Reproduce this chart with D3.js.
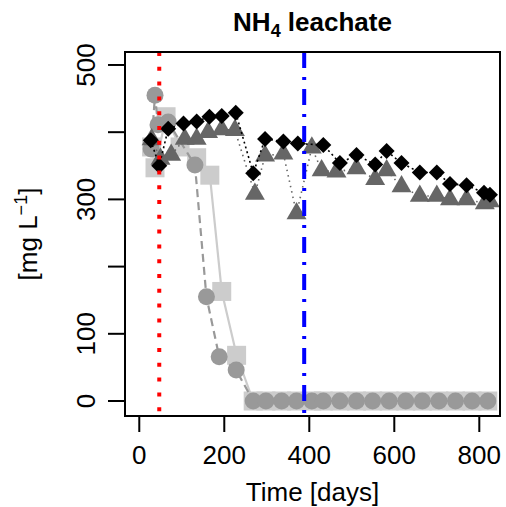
<!DOCTYPE html>
<html>
<head>
<meta charset="utf-8">
<script src="https://cdn.jsdelivr.net/npm/d3@7"></script>
<style>
	html, body { margin: 0; padding: 0; background: #fff; }
	text { font-family: "Liberation Sans", Arial, Helvetica, sans-serif; fill: #000; }
</style>
</head>
<body>
<div id="chart"></div>
<script>

// Event markers (days):
var startDay = 47,
	switchDay = 388;

// Axis ticks:
var xTicks = [0, 200, 400, 600, 800],
	yTicks = [0, 100, 200, 300, 400, 500],
	yTickLabels = ['0', '100', '', '300', '', '500'];

// Black diamonds:
var diamondDays = [27, 47, 68, 104, 135, 165, 194, 227, 268, 296, 339, 373, 433, 472, 511, 555, 582, 617, 660, 700, 731, 770, 811, 825],
	diamondVals = [388, 350, 405, 413, 416, 423, 424, 429, 339, 390, 386, 383, 381, 354, 366, 352, 372, 354, 340, 340, 323, 321, 310, 307];

// Dark grey triangles:
var triangleDays = [29, 50, 75, 107, 135, 162, 194, 225, 272, 296, 339, 370, 406, 429, 464, 511, 555, 582, 617, 660, 700, 731, 770, 813, 825],
	triangleVals = [389, 360, 366, 390, 390, 400, 404, 403, 308, 365, 368, 279, 377, 343, 341, 346, 330, 343, 319, 305, 305, 300, 300, 294, 297];

// Grey circles:
var circleDays = [28, 37, 44, 68, 131, 158, 188, 228, 268, 298, 335, 370, 406, 433, 472, 511, 549, 588, 627, 666, 705, 744, 783, 820],
	circleVals = [375, 455, 411, 415, 351, 155, 66, 46, 0, 0, 0, 0, 0, 0, 0, 0, 0, 0, 0, 0, 0, 0, 0, 0];

// Light grey squares:
var squareDays = [29, 37, 63, 96, 135, 166, 194, 229, 268, 298, 335, 370, 406, 433, 472, 511, 549, 588, 627, 666, 705, 744, 783, 820],
	squareVals = [378, 347, 423, 378, 362, 336, 163, 68, 0, 0, 0, 0, 0, 0, 0, 0, 0, 0, 0, 0, 0, 0, 0, 0];


var width = 506,
	height = 507,
	box = { left: 125, right: 500, top: 52, bottom: 416 };

var x = d3.scaleLinear().domain([-33.6, 848.7]).range([box.left, box.right]),
	y = d3.scaleLinear().domain([-22.3, 519.3]).range([box.bottom, box.top]);

var svg = d3.select('#chart').append('svg')
	.attr('width', width)
	.attr('height', height);

// Clip the data to the plot region:
svg.append('defs').append('clipPath')
	.attr('id', 'plotClip')
	.append('rect')
		.attr('x', box.left)
		.attr('y', box.top)
		.attr('width', box.right - box.left)
		.attr('height', box.bottom - box.top);

var plot = svg.append('g').attr('clip-path', 'url(#plotClip)');

// Marker shapes (sizes in px):
function diamond( s ) {
	return 'M0,' + (-s) + 'L' + s + ',0L0,' + s + 'L' + (-s) + ',0Z';
}
function triangle( r ) {
	var xc = r * Math.sqrt(3) / 2;
	return 'M0,' + (-r) + 'L' + xc + ',' + (r / 2) + 'L' + (-xc) + ',' + (r / 2) + 'Z';
}
function square( h ) {
	return 'M' + (-h) + ',' + (-h) + 'H' + h + 'V' + h + 'H' + (-h) + 'Z';
}
function circle( r ) {
	return 'M' + r + ',0A' + r + ',' + r + ' 0 1,1 ' + (-r) + ',0A' + r + ',' + r + ' 0 1,1 ' + r + ',0Z';
}

var series = [
	{ days: squareDays, vals: squareVals, color: '#cccccc', dash: null, lw: 2.2, shape: square(9.5) },
	{ days: circleDays, vals: circleVals, color: '#999999', dash: '8,5', lw: 2.2, shape: circle(8.5) },
	{ days: triangleDays, vals: triangleVals, color: '#666666', dash: '1.5,4', lw: 1.6, shape: triangle(11.5) },
	{ days: diamondDays, vals: diamondVals, color: '#000000', dash: '2,3', lw: 1.6, shape: diamond(8) }
];

var line = d3.line()
	.x( function(d) { return x(d[0]); } )
	.y( function(d) { return y(d[1]); } );

series.forEach( function( s ) {
	var pts = s.days.map( function(d, i) { return [d, s.vals[i]]; } );

	plot.append('path')
		.datum(pts)
		.attr('d', line)
		.attr('fill', 'none')
		.attr('stroke', s.color)
		.attr('stroke-width', s.lw)
		.attr('stroke-dasharray', s.dash);

	plot.selectAll(null)
		.data(pts)
		.enter().append('path')
			.attr('d', s.shape)
			.attr('transform', function(d) { return 'translate(' + x(d[0]) + ',' + y(d[1]) + ')'; })
			.attr('fill', s.color);
});

// Vertical event lines:
plot.append('line')
	.attr('x1', x(startDay)).attr('x2', x(startDay))
	.attr('y1', box.top).attr('y2', box.bottom)
	.attr('stroke', '#ff0000')
	.attr('stroke-width', 4)
	.attr('stroke-dasharray', '4,10.8');

plot.append('line')
	.attr('x1', x(switchDay)).attr('x2', x(switchDay))
	.attr('y1', box.top).attr('y2', box.bottom)
	.attr('stroke', '#0000ff')
	.attr('stroke-width', 4)
	.attr('stroke-dasharray', '16,9,3,9');

// Box:
svg.append('rect')
	.attr('x', box.left)
	.attr('y', box.top)
	.attr('width', box.right - box.left)
	.attr('height', box.bottom - box.top)
	.attr('fill', 'none')
	.attr('stroke', '#000')
	.attr('stroke-width', 2);

// X axis:
var xAxis = svg.append('g');
xAxis.selectAll('line')
	.data(xTicks)
	.enter().append('line')
		.attr('x1', x).attr('x2', x)
		.attr('y1', box.bottom).attr('y2', box.bottom + 16)
		.attr('stroke', '#000')
		.attr('stroke-width', 2);
xAxis.selectAll('text')
	.data(xTicks)
	.enter().append('text')
		.attr('x', x)
		.attr('y', 464)
		.attr('text-anchor', 'middle')
		.style('font-size', '26px')
		.text( function(d) { return d; } );

// Y axis:
var yAxis = svg.append('g');
yAxis.selectAll('line')
	.data(yTicks)
	.enter().append('line')
		.attr('x1', box.left - 17).attr('x2', box.left)
		.attr('y1', y).attr('y2', y)
		.attr('stroke', '#000')
		.attr('stroke-width', 2);
yAxis.selectAll('text')
	.data(yTicks)
	.enter().append('text')
		.attr('transform', function(d) { return 'translate(95,' + y(d) + ') rotate(-90)'; })
		.attr('text-anchor', 'middle')
		.style('font-size', '26px')
		.text( function(d, i) { return yTickLabels[i]; } );

// Axis titles:
svg.append('text')
	.attr('x', (box.left + box.right) / 2)
	.attr('y', 501)
	.attr('text-anchor', 'middle')
	.style('font-size', '26px')
	.text('Time [days]');

var yTitle = svg.append('text')
	.attr('transform', 'translate(37,' + ((box.top + box.bottom) / 2) + ') rotate(-90)')
	.attr('text-anchor', 'middle')
	.style('font-size', '26px');
yTitle.append('tspan').text('[mg L');
yTitle.append('tspan').attr('dy', -10).style('font-size', '18px').text('\u22121');
yTitle.append('tspan').attr('dy', 10).text(']');

// Title:
var title = svg.append('text')
	.attr('x', (box.left + box.right) / 2)
	.attr('y', 31)
	.attr('text-anchor', 'middle')
	.style('font-size', '26px')
	.style('font-weight', 'bold');
title.append('tspan').text('NH');
title.append('tspan').attr('dy', 6).style('font-size', '18px').text('4');
title.append('tspan').attr('dy', -6).text(' leachate');

</script>
</body>
</html>
